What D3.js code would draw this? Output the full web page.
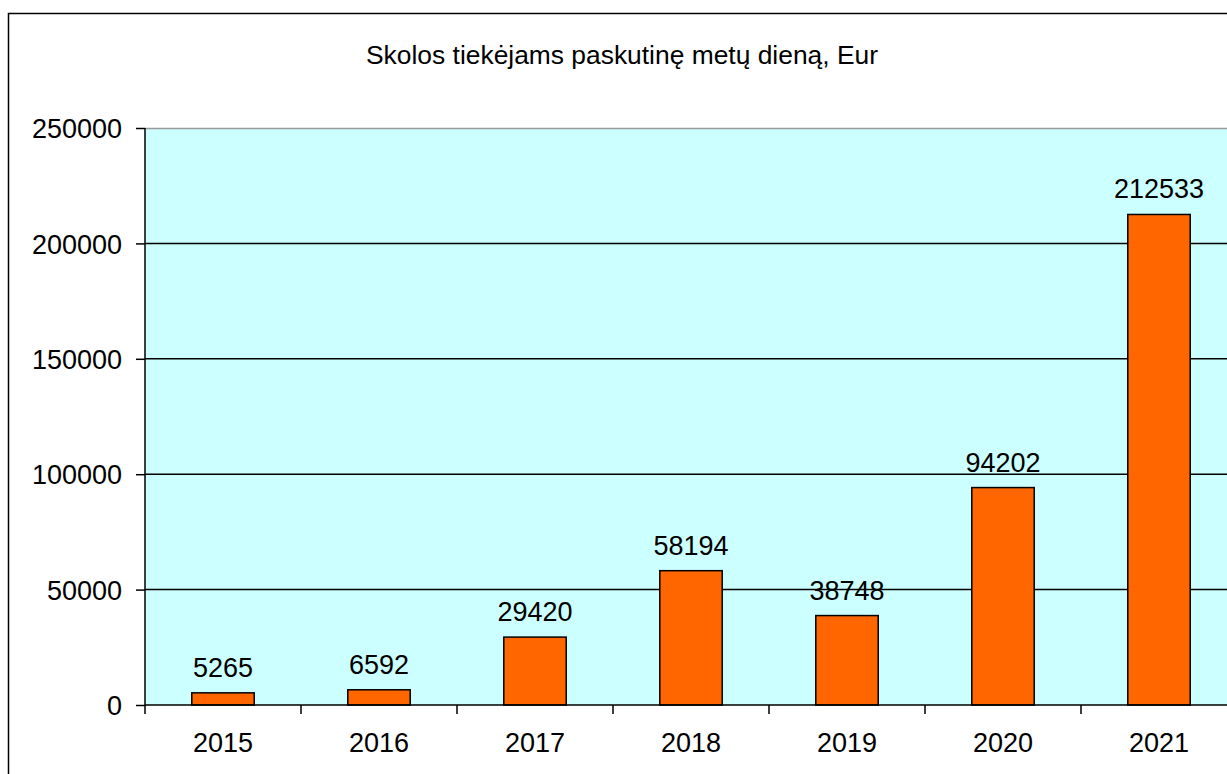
<!DOCTYPE html>
<html>
<head>
<meta charset="utf-8">
<script src="https://cdn.jsdelivr.net/npm/d3@7"></script>
<style>
  body { margin: 0; background: #fff; }
  svg text { font-family: "Liberation Sans", Arial, sans-serif; fill: #000; }
</style>
</head>
<body>
<div id="gr"></div>
<script>
var years = ["2015", "2016", "2017", "2018", "2019", "2020", "2021"];
var values = [5265, 6592, 29420, 58194, 38748, 94202, 212533];
var yTicks = [0, 50000, 100000, 150000, 200000, 250000];
var title = "Skolos tiekėjams paskutinę metų dieną, Eur";

var W = 1227, H = 774;
var margin = { left: 145, top: 128 };
var plotW = 1092, plotH = 577;

var svg = d3.select("#gr").append("svg")
  .attr("width", W)
  .attr("height", H);

// outer chart frame (runs off the right/bottom edge)
svg.append("rect")
  .attr("x", 8.5).attr("y", 13.5)
  .attr("width", W + 20).attr("height", H + 20)
  .attr("fill", "#fff")
  .attr("stroke", "#000")
  .attr("stroke-width", 1.5);

svg.append("text")
  .attr("x", 622).attr("y", 64)
  .attr("text-anchor", "middle")
  .style("font-size", "26.4px")
  .text(title);

var g = svg.append("g")
  .attr("transform", "translate(" + margin.left + "," + margin.top + ")");

var x = d3.scaleBand().domain(years).range([0, plotW]).paddingInner(0.6).paddingOuter(0.3);
var xb = d3.scaleBand().domain(years).range([0, plotW]);
var y = d3.scaleLinear().domain([0, 250000]).range([plotH, 0]);

g.append("rect")
  .attr("width", plotW).attr("height", plotH)
  .attr("fill", "#ccffff");

// gridlines
g.selectAll(".grid").data(yTicks.filter(function (d) { return d > 0 && d < 250000; }))
  .enter().append("line")
  .attr("x1", 0).attr("x2", plotW)
  .attr("y1", function (d) { return y(d); })
  .attr("y2", function (d) { return y(d); })
  .attr("stroke", "#000").attr("stroke-width", 1.5);

g.append("line")
  .attr("x1", 0).attr("x2", plotW)
  .attr("y1", 0.5).attr("y2", 0.5)
  .attr("stroke", "#999").attr("stroke-width", 1.5);

// bars
g.selectAll(".bar").data(values).enter().append("rect")
  .attr("x", function (d, i) { return x(years[i]); })
  .attr("y", function (d) { return y(d); })
  .attr("width", x.bandwidth())
  .attr("height", function (d) { return plotH - y(d); })
  .attr("fill", "#ff6600")
  .attr("stroke", "#000")
  .attr("stroke-width", 1.5);

g.selectAll(".lbl").data(values).enter().append("text")
  .attr("x", function (d, i) { return x(years[i]) + x.bandwidth() / 2; })
  .attr("y", function (d) { return y(d) - 16; })
  .attr("text-anchor", "middle")
  .style("font-size", "27px")
  .text(function (d) { return d; });

// y axis
var yAxis = d3.axisLeft(y).tickValues(yTicks).tickSize(9).tickPadding(14).tickFormat(d3.format("d"));
var ya = g.append("g").call(yAxis);
ya.selectAll("text").style("font-size", "27px").attr("dy", "0.36em");
ya.selectAll("line, path").attr("stroke", "#000").attr("stroke-width", 1.5);
ya.select(".domain").attr("d", "M0,0V" + plotH);

// x axis: ticks at category boundaries
var xa = g.append("g").attr("transform", "translate(0," + plotH + ")");
xa.append("line").attr("x1", 0).attr("x2", plotW)
  .attr("stroke", "#000").attr("stroke-width", 1.5);
xa.selectAll(".tk").data(years).enter().append("line")
  .attr("x1", function (d) { return xb(d); })
  .attr("x2", function (d) { return xb(d); })
  .attr("y1", 0).attr("y2", 9)
  .attr("stroke", "#000").attr("stroke-width", 1.5);
xa.selectAll(".yl").data(years).enter().append("text")
  .attr("x", function (d) { return xb(d) + xb.bandwidth() / 2; })
  .attr("y", 47)
  .attr("text-anchor", "middle")
  .style("font-size", "27px")
  .text(function (d) { return d; });
</script>
</body>
</html>
